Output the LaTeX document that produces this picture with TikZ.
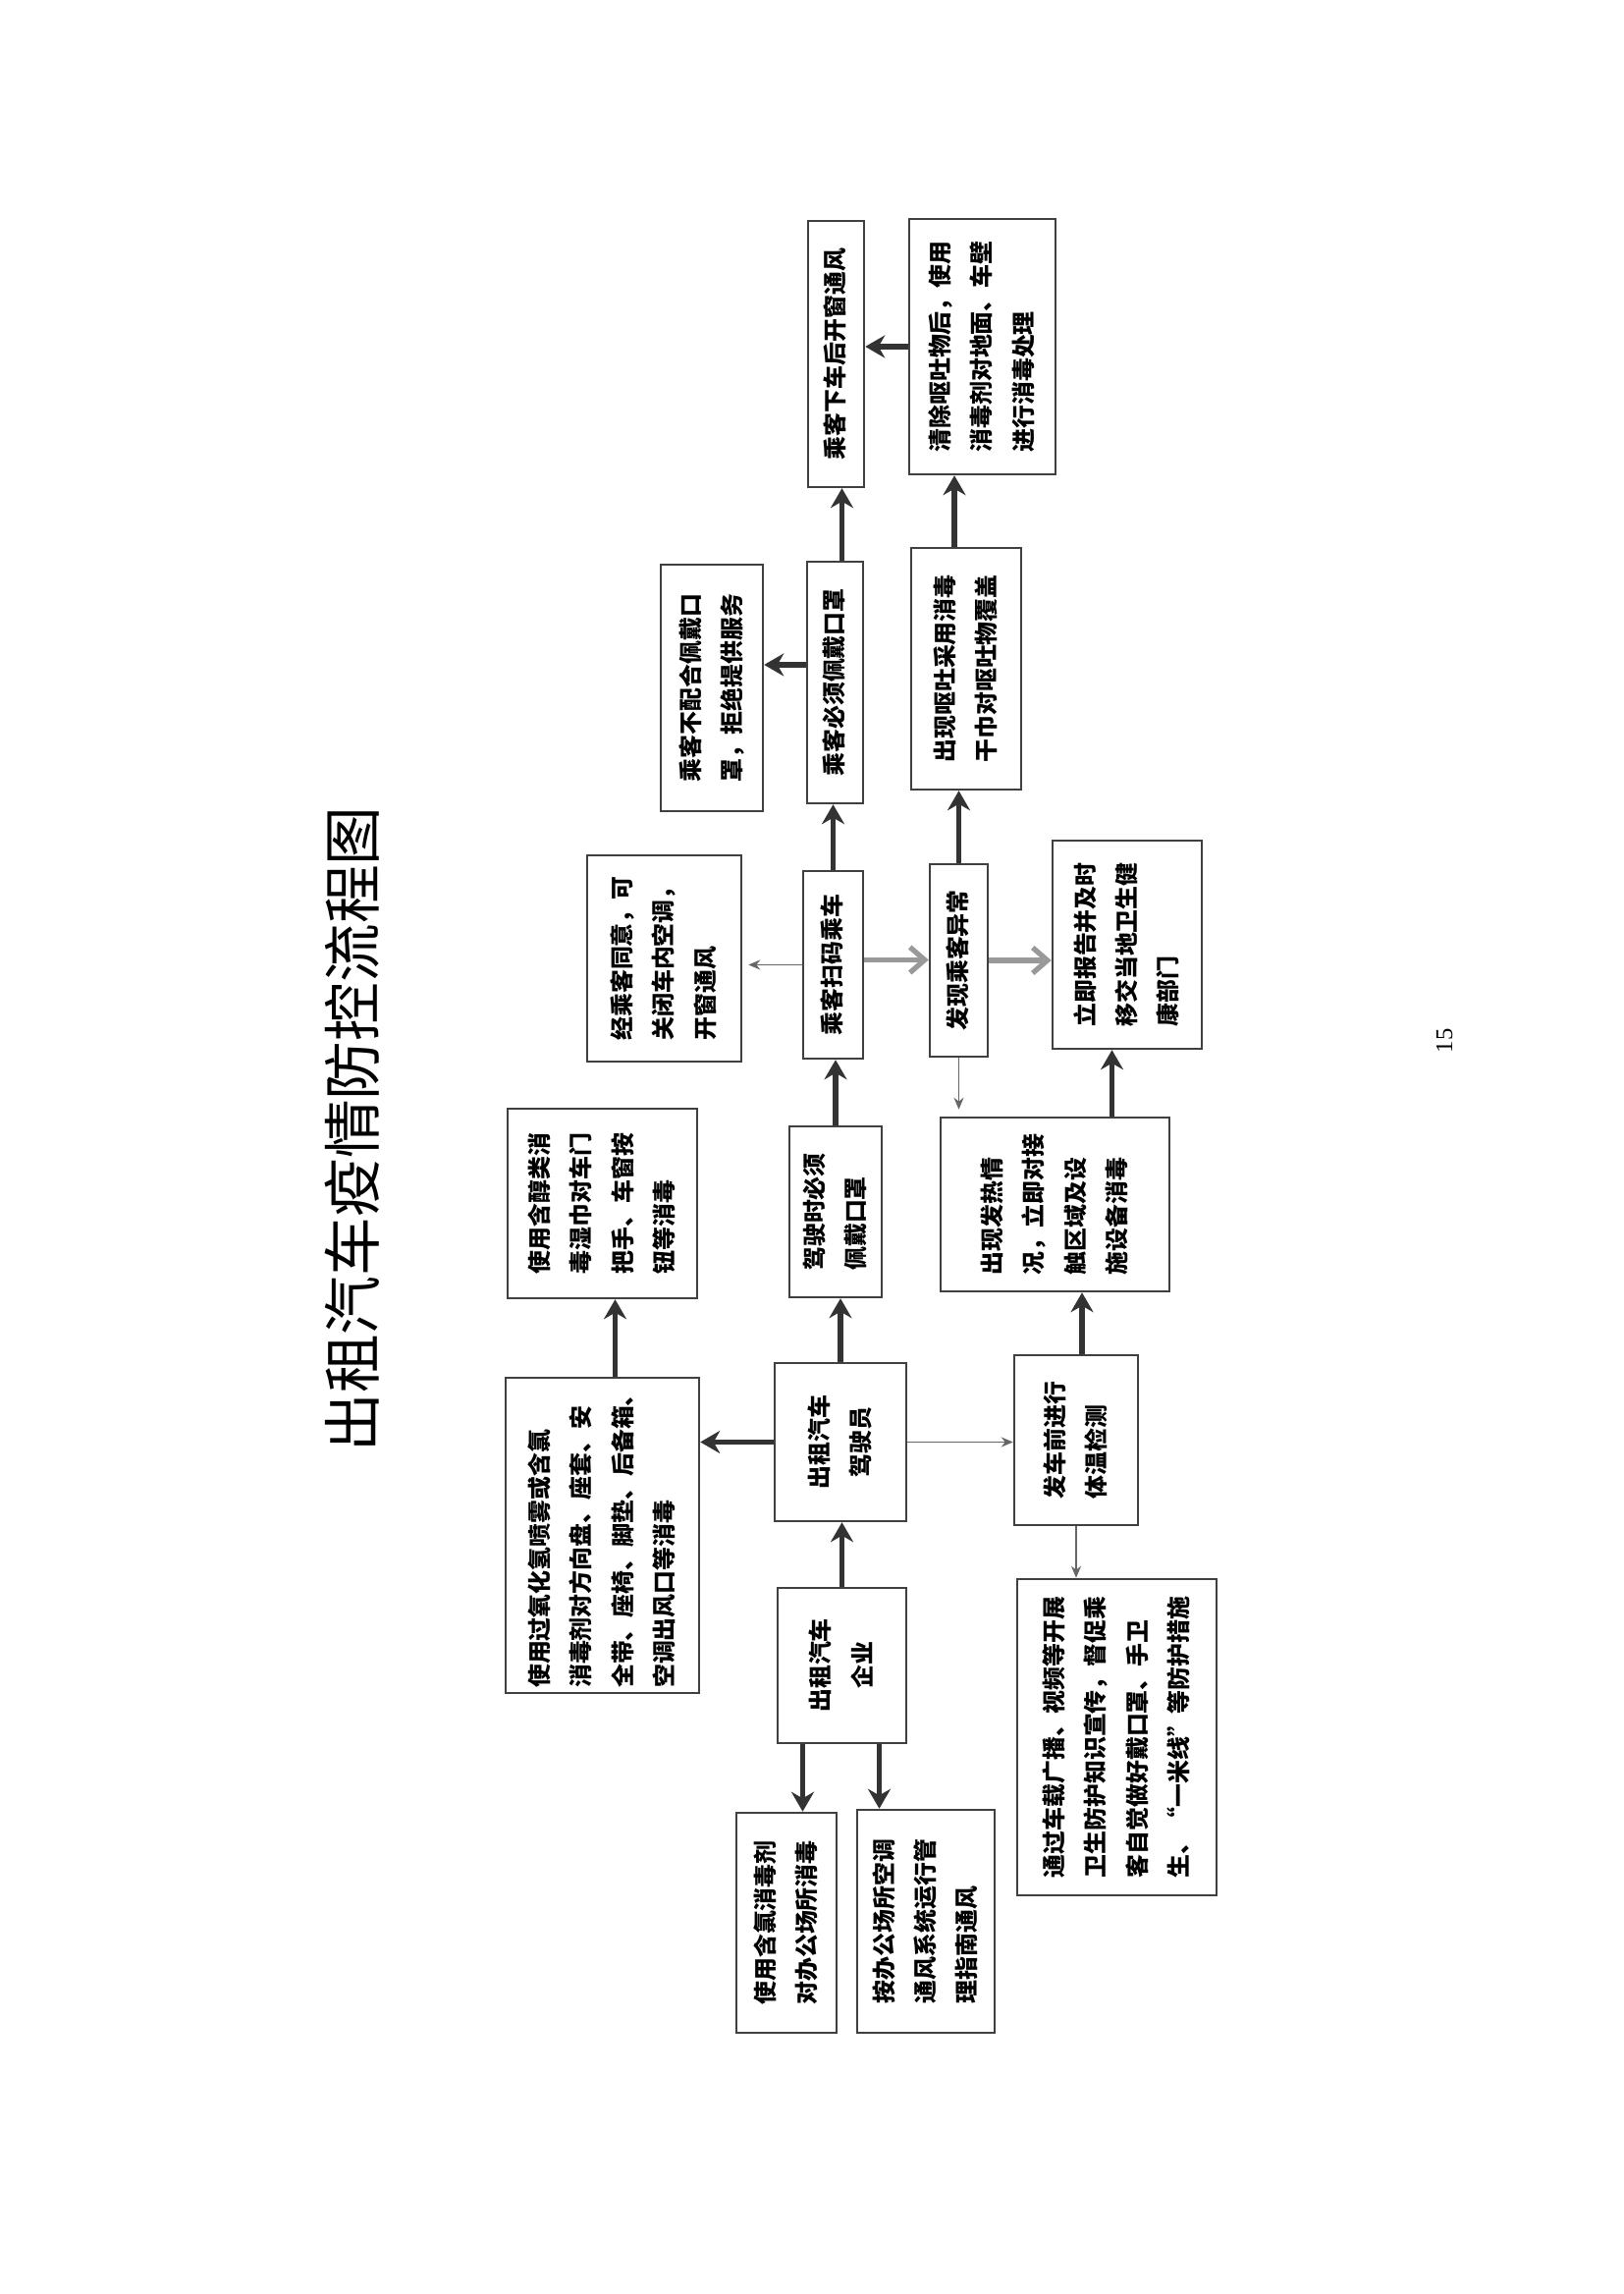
\documentclass[tikz,border=0pt]{standalone}
\usepackage{graphicx}
\usepackage{fontspec}
\setmainfont{Noto Sans CJK SC}
\newfontfamily\numfont{Liberation Serif}
\usepackage{tikz}
\usetikzlibrary{arrows.meta,positioning,calc}

% text set sideways inside a box
\newcommand{\vtext}[2][l]{\rotatebox{90}{\begin{tabular}{@{}#1@{}}#2\end{tabular}}}

\begin{document}
\begin{tikzpicture}[>=Stealth,
  box/.style={draw=black!75,line width=0.7pt,inner sep=1pt,
    font=\bfseries\fontsize{6.8}{12}\selectfont},
  fat/.style={-{Stealth[length=2mm,width=2.3mm]},line width=1.5pt,draw=black!80},
  pale/.style={-{Straight Barb[length=1.5mm,width=2.6mm]},line width=1.5pt,draw=black!40},
  slim/.style={-{Stealth[length=1.2mm,width=1mm]},line width=0.5pt,draw=black!60}]

  \fill[white] (0,0) rectangle (16.53,23.36);
  \useasboundingbox (0,0) rectangle (16.53,23.36);

  % Title
  \node[font=\fontsize{17}{19}\selectfont] (title) at (3.585,11.86)
    {\rotatebox{90}{出租汽车疫情防控流程图}};

  % Page number
  \node[font=\numfont\fontsize{7}{8}\selectfont] (pagenum) at (14.71,12.76)
    {\rotatebox{90}{15}};

  % Company
  \node[box,minimum width=1.31cm,minimum height=1.58cm] (company) at (8.575,6.40)
    {\vtext[c]{出租汽车\\企业}};
  \node[box,minimum width=1.02cm,minimum height=2.24cm] (chlorine) at (8.01,3.78)
    {\vtext{使用含氯消毒剂\\对办公场所消毒}};
  \node[box,minimum width=1.40cm,minimum height=2.27cm] (office) at (9.43,3.795)
    {\vtext{按办公场所空调\\通风系统运行管\\理指南通风}};

  % Driver
  \node[box,minimum width=1.34cm,minimum height=1.61cm] (driver) at (8.56,8.675)
    {\vtext[c]{出租汽车\\驾驶员}};
  \node[box,minimum width=1.97cm,minimum height=3.21cm] (spray) at (6.135,7.725)
    {\vtext{使用过氧化氢喷雾或含氯\\消毒剂对方向盘、座套、安\\全带、座椅、脚垫、后备箱、\\空调出风口等消毒}};
  \node[box,minimum width=1.26cm,minimum height=1.73cm] (temp) at (10.96,8.695)
    {\vtext{发车前进行\\体温检测}};
  \node[box,minimum width=2.03cm,minimum height=3.22cm] (publicity) at (11.375,5.67)
    {\vtext{通过车载广播、视频等开展\\卫生防护知识宣传，督促乘\\客自觉做好戴口罩、手卫\\生、“一米线”等防护措施}};

  % Second row
  \node[box,minimum width=1.93cm,minimum height=1.93cm] (wipe) at (6.135,11.105)
    {\vtext{使用含醇类消\\毒湿巾对车门\\把手、车窗按\\钮等消毒}};
  \node[box,minimum width=0.94cm,minimum height=1.74cm] (drivemask) at (8.51,11.02)
    {\vtext{驾驶时必须\\佩戴口罩}};
  \node[box,minimum width=2.33cm,minimum height=1.77cm] (fever) at (10.745,11.095)
    {\vtext{出现发热情\\况，立即对接\\触区域及设\\施设备消毒}};

  % Passenger
  \node[box,minimum width=1.57cm,minimum height=2.10cm] (agree) at (6.765,13.60)
    {\vtext{经乘客同意，可\\关闭车内空调，\\开窗通风}};
  \node[box,minimum width=0.61cm,minimum height=1.91cm] (scan) at (8.485,13.535)
    {\vtext{乘客扫码乘车}};
  \node[box,minimum width=0.59cm,minimum height=1.96cm] (abnormal) at (9.765,13.58)
    {\vtext{发现乘客异常}};
  \node[box,minimum width=1.52cm,minimum height=2.12cm] (report) at (11.48,13.74)
    {\vtext{立即报告并及时\\移交当地卫生健\\康部门}};

  % Mask and vomit
  \node[box,minimum width=1.04cm,minimum height=2.51cm] (refuse) at (7.25,16.355)
    {\vtext{乘客不配合佩戴口\\罩，拒绝提供服务}};
  \node[box,minimum width=0.57cm,minimum height=2.46cm] (mask) at (8.505,16.41)
    {\vtext{乘客必须佩戴口罩}};
  \node[box,minimum width=1.12cm,minimum height=2.46cm] (vomit) at (9.84,16.55)
    {\vtext{出现呕吐采用消毒\\干巾对呕吐物覆盖}};

  % Leaving
  \node[box,minimum width=0.57cm,minimum height=2.71cm] (down) at (8.515,19.755)
    {\vtext{乘客下车后开窗通风}};
  \node[box,minimum width=1.49cm,minimum height=2.60cm] (clean) at (10.005,19.83)
    {\vtext{清除呕吐物后，使用\\消毒剂对地面、车壁\\进行消毒处理}};

  % Arrows
  \draw[fat] (company.north) -- (company.north |- driver.south);
  \draw[fat] ([xshift=-4mm]company.south) -- ([xshift=-4mm]company.south |- chlorine.north);
  \draw[fat] ([xshift=3.8mm]company.south) -- ([xshift=3.8mm]company.south |- office.north);
  \draw[fat] (driver.west) -- (driver.west -| spray.east);
  \draw[fat] (driver.north) -- (driver.north |- drivemask.south);
  \draw[slim] (driver.east) -- (driver.east -| temp.west);
  \draw[fat] ([xshift=1.3mm]spray.north) -- ([xshift=1.3mm]spray.north |- wipe.south);
  \draw[fat] ([xshift=0.6mm]temp.north) -- ([xshift=0.6mm]temp.north |- fever.south);
  \draw[slim] (temp.south) -- (temp.south |- publicity.north);
  \draw[fat] (drivemask.north) -- (drivemask.north |- scan.south);
  \draw[fat] ([xshift=5.8mm]fever.north) -- ([xshift=5.8mm]fever.north |- report.south);
  \draw[slim,shorten >=0.7mm] (abnormal.south) -- (abnormal.south |- fever.north);
  \draw[pale] ([yshift=0.5mm]scan.east) -- ([yshift=0.5mm]scan.east -| abnormal.west);
  \draw[pale] (abnormal.east) -- (abnormal.east -| report.west);
  \draw[slim,shorten >=0.6mm] (scan.west) -- (scan.west -| agree.east);
  \draw[fat] (scan.north) -- (scan.north |- mask.south);
  \draw[fat] ([yshift=1.8mm]mask.west) -- ([yshift=1.8mm]mask.west -| refuse.east);
  \draw[fat] ([xshift=0.7mm]mask.north) -- ([xshift=0.7mm]mask.north |- down.south);
  \draw[fat] (abnormal.north) -- (abnormal.north |- vomit.south);
  \draw[fat] ([xshift=-1.2mm]vomit.north) -- ([xshift=-1.2mm]vomit.north |- clean.south);
  \draw[fat] (clean.west) -- (clean.west -| down.east);
\end{tikzpicture}
\end{document}
